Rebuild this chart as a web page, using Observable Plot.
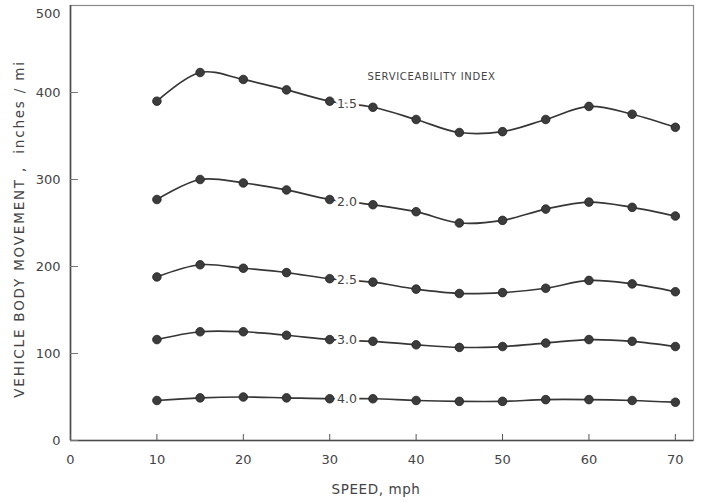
<!DOCTYPE html>
<html>
<head>
<meta charset="utf-8">
<script src="https://cdn.jsdelivr.net/npm/d3@7"></script>
<script src="https://cdn.jsdelivr.net/npm/@observablehq/plot@0.6"></script>
<style>
  html, body { margin: 0; padding: 0; background: #ffffff; }
  #chart { width: 703px; height: 502px; }
  .svc text { letter-spacing: 0.7px; }
  .ylab text { letter-spacing: 1.8px; }
  .xlab text { letter-spacing: 0.6px; }
</style>
</head>
<body>
<div id="chart"></div>
<script>
// ---- data ----
const speeds = [10, 15, 20, 25, 30, 35, 40, 45, 50, 55, 60, 65, 70];
const indexLabels = ["1.5", "2.0", "2.5", "3.0", "4.0"];
const si15 = [390, 423, 415, 403, 390, 383, 369, 354, 355, 369, 384, 375, 360];
const si20 = [277, 300, 296, 288, 277, 271, 263, 250, 253, 266, 274, 268, 258];
const si25 = [188, 202, 198, 193, 186, 182, 174, 169, 170, 175, 184, 180, 171];
const si30 = [116, 125, 125, 121, 116, 114, 110, 107, 108, 112, 116, 114, 108];
const si40 = [46, 49, 50, 49, 48, 48, 46, 45, 45, 47, 47, 46, 44];
const xTicks = [0, 10, 20, 30, 40, 50, 60, 70];
const yTicks = [0, 100, 200, 300, 400, 500];
const xTitle = "SPEED, mph";
const yTitle = "VEHICLE BODY MOVEMENT ,  inches / mi";
const legendTitle = "SERVICEABILITY INDEX";

const seriesValues = [si15, si20, si25, si30, si40];
const rows = [];
seriesValues.forEach((vals, i) => {
  vals.forEach((v, j) => rows.push({index: indexLabels[i], speed: speeds[j], value: v}));
});
// curve labels sit in the gap between the 30 and 35 mph points
const labelRows = seriesValues.map((vals, i) => ({
  index: indexLabels[i],
  speed: speeds[4] + 0.4 * (speeds[5] - speeds[4]),
  value: vals[4] + 0.4 * (vals[5] - vals[4])
}));
const yTop = yTicks[yTicks.length - 1];

const ink = "#363636";
const chart = Plot.plot({
  width: 703,
  height: 502,
  marginLeft: 70,
  marginRight: 10,
  marginTop: 5,
  marginBottom: 62,
  style: {fontFamily: "DejaVu Sans, sans-serif", fontSize: "13px", color: "#444", background: "#ffffff"},
  x: {domain: [0, 72.1], label: null},
  y: {domain: [0, 500], label: null},
  marks: [
    Plot.frame({stroke: "#8a8a8a", strokeWidth: 1.2}),
    Plot.ruleX([0], {stroke: "#4a4a4a", strokeWidth: 1.6}),
    Plot.ruleY([0], {stroke: "#4a4a4a", strokeWidth: 1.6}),
    // inward ticks
    Plot.axisX({ticks: xTicks, tickSize: 6, dy: -6, tickFormat: () => "", label: null, stroke: "#555"}),
    Plot.axisY({ticks: yTicks.slice(0, -1), tickSize: 8, dx: 8, tickFormat: () => "", label: null, stroke: "#777"}),
    // tick labels
    Plot.axisX({ticks: xTicks, tickSize: 0, tickPadding: 14, label: null, fill: "#444"}),
    Plot.axisY({ticks: yTicks.filter(d => d !== yTop), tickSize: 0, tickPadding: 10, label: null, fill: "#444"}),
    Plot.axisY({ticks: [yTop], tickSize: 0, tickPadding: 10, dy: 8, label: null, fill: "#444"}),
    Plot.line(rows, {x: "speed", y: "value", z: "index", curve: "catmull-rom", stroke: ink, strokeWidth: 1.7}),
    Plot.dot(rows, {x: "speed", y: "value", r: 4.3, fill: "#3c3c3c", stroke: "#222", strokeWidth: 0.8}),
    Plot.text(labelRows, {x: "speed", y: "value", text: "index", fill: "#444", stroke: "white", strokeWidth: 6, fontSize: 12.5}),
    Plot.text([legendTitle], {frameAnchor: "top-left", dx: 361, dy: 67, textAnchor: "middle", fontSize: 10, fill: "#444", className: "svc"}),
    Plot.text([yTitle], {frameAnchor: "left", textAnchor: "middle", rotate: -90, dx: -51, dy: 6, fontSize: 13.5, fill: "#444", className: "ylab"}),
    Plot.text([xTitle], {frameAnchor: "bottom", textAnchor: "middle", dx: -6, dy: 53, fontSize: 13.5, fill: "#444", className: "xlab"})
  ]
});
document.getElementById("chart").appendChild(chart);
</script>
</body>
</html>
